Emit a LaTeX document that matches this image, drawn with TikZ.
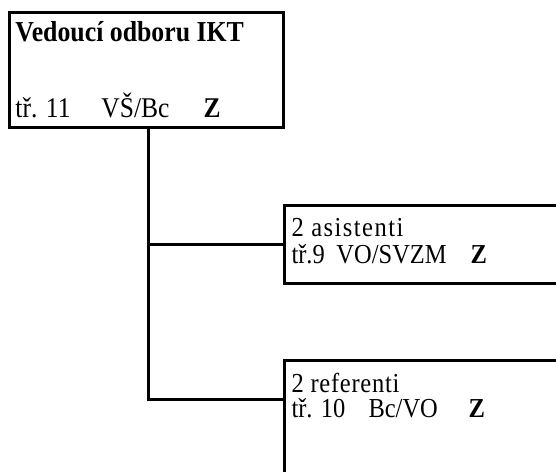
\documentclass[tikz,border=0pt]{standalone}
\usepackage{fontspec}
\usepackage{graphicx}
\setmainfont{Liberation Serif}
\usetikzlibrary{positioning}

\newcommand{\tallbox}[1]{\scalebox{1}[1.12]{#1}}

\begin{document}
\begin{tikzpicture}[x=1pt, y=-1pt, line width=3pt,
    box/.style={draw, rectangle, anchor=north west, inner sep=0pt, outer sep=0pt},
    txt/.style={anchor=base west, inner sep=0pt, font=\fontsize{24.5}{28}\selectfont}]
    \useasboundingbox (0,0) rectangle (556,471);
    \clip (0,0) rectangle (556,471);

    % Boxes
    \node[box, minimum width=274pt, minimum height=115pt] (vedouci) at (9.5,12.5) {};
    \node[box, minimum width=300pt, minimum height=78pt] (asistenti) at (284.5,205) {};
    \node[box, minimum width=300pt, minimum height=150pt] (referenti) at (284.5,360.5) {};

    % Texts
    \node[txt, font=\fontsize{25.8}{28}\selectfont\bfseries] (vedouci-t) at (14,41)
        {\tallbox{Vedoucí odboru IKT}};
    \node[txt, font=\fontsize{25.5}{28}\selectfont] (vedouci-k) at (14,117)
        {\tallbox{\makebox[86pt][l]{tř. 11}\makebox[102pt][l]{VŠ/Bc}\textbf{Z}}};
    \node[txt] (asistenti-t) at (290,236) {\tallbox{\addfontfeature{LetterSpace=6}2 asistenti}};
    \node[txt] (asistenti-k) at (290,263)
        {\tallbox{\makebox[45pt][l]{tř.9}\makebox[134pt][l]{VO/SVZM}\textbf{Z}}};
    \node[txt] (referenti-t) at (290,392) {\tallbox{\addfontfeature{LetterSpace=3}2 referenti}};
    \node[txt] (referenti-k) at (290,417)
        {\tallbox{\makebox[77pt][l]{tř. 10}\makebox[100pt][l]{Bc/VO}\textbf{Z}}};

    % Connectors
    \coordinate (kref) at (284.5,399);
    \draw ([xshift=1.5pt]vedouci.south) |- (kref);
    \draw ([xshift=1.5pt]vedouci.south |- asistenti.west) -- (asistenti.west);
\end{tikzpicture}
\end{document}
